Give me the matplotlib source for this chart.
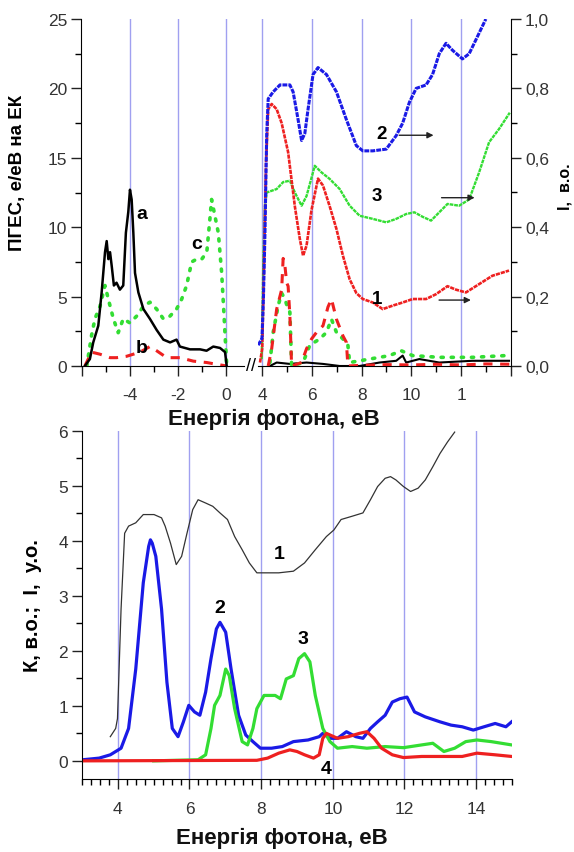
import matplotlib
matplotlib.use('Agg')
import matplotlib.pyplot as plt
from matplotlib.ticker import MultipleLocator, FixedLocator, FuncFormatter

plt.rcParams['font.family'] = ['Liberation Sans', 'DejaVu Sans']

# ---- верхня панель, ліва частина (ПГЕС, ліва шкала) ----
a_x = [-5.88, -5.67, -5.53, -5.32, -5.18, -5.04, -4.97, -4.90, -4.83, -4.76,
       -4.67, -4.56, -4.42, -4.28, -4.17, -4.07, -4.00, -3.93, -3.86, -3.79,
       -3.65, -3.44, -3.17, -2.89, -2.61, -2.33, -2.06, -1.92, -1.50, -1.08,
       -0.81, -0.53, -0.25, -0.04, 0.03]
a_y = [0, 0.5, 1.7, 2.9, 5.3, 8.2, 9.0, 7.7, 8.2, 7.2,
       5.8, 6.0, 5.5, 5.8, 9.6, 11.1, 12.7, 12.0, 9.6, 6.7,
       5.3, 4.1, 3.4, 2.6, 1.9, 1.7, 1.9, 1.4, 1.2, 1.2,
       1.1, 1.4, 1.3, 1.0, 0]
b_x = [-5.88, -5.6, -5.25, -4.83, -4.56, -4.14, -3.58, -3.17, -2.89, -2.47,
       -1.92, -1.36, -0.8, -0.39, 0.03]
b_y = [0, 1.0, 0.85, 0.6, 0.6, 0.7, 1.0, 1.4, 1.1, 0.6,
       0.6, 0.35, 0.25, 0.12, 0]
c_x = [-5.8, -5.6, -5.46, -5.25, -5.04, -4.9, -4.69, -4.49, -4.28, -4.0,
       -3.72, -3.44, -3.17, -2.89, -2.61, -2.33, -2.06, -1.85, -1.64, -1.43,
       -1.22, -1.01, -0.8, -0.67, -0.6, -0.46, -0.32, -0.18, -0.08, 0.03]
c_y = [0, 2.2, 3.4, 4.3, 5.8, 4.8, 3.4, 2.4, 3.4, 3.1,
       3.6, 4.3, 4.6, 4.1, 3.4, 3.6, 4.1, 4.8, 5.8, 7.5,
       7.7, 7.7, 8.2, 10.6, 12.0, 10.8, 9.6, 6.7, 3.6, 0]

# ---- верхня панель, права частина (I, в.о.) ----
s2_x = [3.85, 4.0, 4.06, 4.12, 4.19, 4.25, 4.45, 4.72, 5.12, 5.25,
        5.45, 5.59, 5.72, 5.85, 6.05, 6.25, 6.59, 6.99, 7.39, 7.79,
        8.05, 8.45, 8.99, 9.39, 9.65, 9.92, 10.19, 10.59, 10.85, 11.12,
        11.39, 11.65, 12.05, 12.32, 12.59, 12.99]
s2_y = [0.06, 0.08, 0.2, 0.385, 0.67, 0.77, 0.79, 0.81, 0.81, 0.79,
        0.71, 0.65, 0.67, 0.74, 0.84, 0.86, 0.84, 0.79, 0.71, 0.635,
        0.62, 0.62, 0.625, 0.664, 0.70, 0.76, 0.80, 0.81, 0.84, 0.90,
        0.93, 0.91, 0.885, 0.90, 0.94, 1.0]
s1_x = [3.92, 4.01, 4.08, 4.16, 4.25, 4.39, 4.59, 4.79, 5.05, 5.32,
        5.52, 5.65, 5.79, 5.99, 6.25, 6.45, 6.72, 6.99, 7.25, 7.52,
        7.79, 8.05, 8.45, 8.85, 9.25, 9.65, 10.05, 10.59, 10.99, 11.45,
        11.79, 12.19, 12.72, 13.25, 13.92]
s1_y = [0.01, 0.05, 0.29, 0.58, 0.74, 0.755, 0.74, 0.70, 0.616, 0.46,
        0.366, 0.318, 0.347, 0.45, 0.54, 0.52, 0.46, 0.395, 0.318, 0.25,
        0.21, 0.193, 0.183, 0.164, 0.174, 0.183, 0.193, 0.193, 0.207, 0.23,
        0.22, 0.212, 0.236, 0.26, 0.275]
s3_x = [3.99, 4.05, 4.12, 4.19, 4.59, 4.85, 5.12, 5.32, 5.59, 5.79,
        6.12, 6.39, 6.72, 7.12, 7.52, 7.92, 8.45, 8.99, 9.39, 9.79,
        10.12, 10.45, 10.79, 11.12, 11.45, 11.92, 12.32, 12.72, 13.12, 13.52,
        13.95]
s3_y = [0.02, 0.29, 0.46, 0.50, 0.51, 0.53, 0.534, 0.50, 0.462, 0.49,
        0.577, 0.558, 0.539, 0.51, 0.462, 0.433, 0.424, 0.414, 0.424, 0.438,
        0.443, 0.43, 0.419, 0.443, 0.467, 0.462, 0.48, 0.558, 0.645, 0.683,
        0.73]
rb_x = [4.25, 4.39, 4.59, 4.79, 4.85, 4.92, 4.99, 5.05, 5.12, 5.19,
        5.59, 5.79, 5.99, 6.19, 6.45, 6.65, 6.79, 6.99, 7.25, 7.39,
        7.45, 8.0, 9.0, 10.0, 11.0, 12.0, 13.0, 14.0]
rb_y = [0, 0.05, 0.164, 0.22, 0.31, 0.29, 0.24, 0.23, 0.145, 0,
        0.01, 0.05, 0.078, 0.097, 0.116, 0.17, 0.193, 0.135, 0.087, 0.068,
        0, 0.002, 0.004, 0.003, 0.005, 0.003, 0.006, 0.005]
cg_x = [4.32, 4.45, 4.65, 4.79, 4.92, 5.05, 5.12, 5.19, 5.65, 5.92,
        6.32, 6.59, 6.79, 6.99, 7.25, 7.45, 7.52, 8.32, 9.12, 9.59,
        10.05, 11.12, 12.45, 13.79]
cg_y = [0.01, 0.097, 0.174, 0.21, 0.193, 0.164, 0.155, 0, 0.01, 0.06,
        0.078, 0.097, 0.135, 0.097, 0.078, 0.06, 0.01, 0.02, 0.03, 0.044,
        0.03, 0.025, 0.025, 0.03]
ak_x = [4.32, 4.59, 5.12, 5.79, 6.45, 7.12, 7.92, 8.72, 9.39, 9.65,
        9.79, 10.32, 11.12, 12.45, 13.92]
ak_y = [0, 0.01, 0.006, 0.01, 0.006, 0, 0, 0.01, 0.015, 0.03,
        0.01, 0.02, 0.01, 0.015, 0.015]

# ---- нижня панель ----
k1_x = [3.79, 3.94, 3.99, 4.09, 4.19, 4.30, 4.50, 4.71, 5.01, 5.22,
        5.32, 5.47, 5.63, 5.78, 5.93, 6.09, 6.24, 6.45, 6.65, 6.85,
        7.06, 7.26, 7.47, 7.67, 7.88, 8.08, 8.49, 8.90, 9.21, 9.51,
        9.82, 10.03, 10.23, 10.54, 10.84, 11.05, 11.25, 11.46, 11.61, 11.76,
        11.97, 12.17, 12.38, 12.58, 12.79, 12.99, 13.20, 13.40]
k1_y = [0.44, 0.59, 0.77, 2.76, 4.14, 4.27, 4.33, 4.48, 4.48, 4.42,
        4.27, 3.96, 3.57, 3.72, 4.14, 4.57, 4.75, 4.69, 4.63, 4.51,
        4.39, 4.08, 3.84, 3.60, 3.42, 3.42, 3.42, 3.45, 3.60, 3.84,
        4.08, 4.20, 4.39, 4.45, 4.51, 4.75, 4.99, 5.14, 5.17, 5.11,
        4.99, 4.90, 4.96, 5.11, 5.35, 5.59, 5.80, 5.98]
k2_x = [3.02, 3.48, 3.79, 4.09, 4.30, 4.50, 4.71, 4.86, 4.91, 4.96, 5.06,
        5.22, 5.37, 5.52, 5.68, 5.83, 5.98, 6.14, 6.29, 6.45, 6.60,
        6.75, 6.85, 7.01, 7.16, 7.37, 7.57, 7.77, 7.98, 8.29, 8.59,
        8.90, 9.31, 9.62, 9.72, 9.92, 10.13, 10.38, 10.64, 10.84, 11.05,
        11.25, 11.46, 11.66, 11.87, 12.07, 12.28, 12.58, 12.99, 13.30, 13.61,
        13.92, 14.22, 14.53, 14.83, 14.99]
k2_y = [0.02, 0.05, 0.11, 0.23, 0.59, 1.67, 3.24, 3.90, 4.02, 3.96, 3.72,
        2.76, 1.43, 0.59, 0.44, 0.71, 1.01, 0.89, 0.83, 1.25, 1.86,
        2.40, 2.52, 2.34, 1.67, 0.83, 0.47, 0.35, 0.23, 0.23, 0.26,
        0.35, 0.38, 0.44, 0.50, 0.41, 0.41, 0.53, 0.44, 0.41, 0.59,
        0.71, 0.83, 1.07, 1.13, 1.16, 0.89, 0.80, 0.71, 0.65, 0.62,
        0.56, 0.62, 0.68, 0.62, 0.71]
k3_x = [5.0, 6.24, 6.45, 6.60, 6.70, 6.85, 7.01, 7.11, 7.26, 7.47,
        7.62, 7.77, 7.88, 8.08, 8.39, 8.54, 8.70, 8.90, 9.05, 9.21,
        9.36, 9.51, 9.72, 9.92, 10.13, 10.54, 10.95, 11.46, 11.97, 12.48,
        12.79, 13.10, 13.40, 13.71, 14.02, 14.42, 14.99]
k3_y = [0, 0.02, 0.11, 0.59, 1.01, 1.19, 1.67, 1.55, 0.95, 0.35,
        0.29, 0.59, 0.95, 1.19, 1.19, 1.13, 1.49, 1.55, 1.86, 1.95,
        1.80, 1.19, 0.59, 0.35, 0.23, 0.26, 0.23, 0.26, 0.24, 0.29,
        0.32, 0.17, 0.23, 0.35, 0.38, 0.35, 0.29]
k4_x = [3.02, 7.88, 8.18, 8.49, 8.80, 9.00, 9.21, 9.46, 9.62, 9.72,
        9.82, 10.13, 10.43, 10.74, 10.95, 11.15, 11.36, 11.66, 11.97, 12.48,
        12.99, 13.61, 14.02, 14.53, 14.99]
k4_y = [0, 0.01, 0.05, 0.14, 0.20, 0.17, 0.11, 0.05, 0.11, 0.41,
        0.50, 0.41, 0.44, 0.50, 0.53, 0.41, 0.23, 0.11, 0.06, 0.08,
        0.08, 0.08, 0.14, 0.11, 0.08]

BLUE = '#1a1ae6'
RED = '#ee2020'
GREEN = '#33dd33'
GRID = '#a0a0f0'
TXT = '#333333'
W, H = 574, 853

fig = plt.figure(figsize=(5.74, 8.53), dpi=100)

axL = fig.add_axes([81 / W, 1 - 367 / H, (244 - 81) / W, 347 / H])
axR = fig.add_axes([258 / W, 1 - 367 / H, (511 - 258) / W, 347 / H])
axR2 = axR.twinx()
axB = fig.add_axes([82 / W, 1 - 780 / H, (512 - 82) / W, 348 / H])

tick_kw = dict(direction='out', labelsize=12.5, width=1, color='#222222', labelcolor=TXT)
DOTS = (0, (1.6, 0.35))

# ліва частина
axL.set_xlim(-6.04, 0.75)
axL.set_ylim(0, 25)
for v in [-4, -2, 0]:
    axL.axvline(v, color=GRID, lw=1, zorder=0)
axL.plot(c_x, c_y, color=GREEN, lw=2.6, ls=(0, (0.6, 2.2)), dash_capstyle='round')
axL.plot(b_x, b_y, color=RED, lw=2.2, ls=(0, (3, 2.5)))
axL.plot(a_x, a_y, color='black', lw=1.8)
axL.spines['top'].set_visible(False)
axL.spines['right'].set_visible(False)
axL.xaxis.set_major_locator(FixedLocator([-6, -4, -2, 0]))
axL.set_xticklabels(['', '-4', '-2', '0'])
axL.xaxis.set_minor_locator(FixedLocator([-5, -3, -1]))
axL.yaxis.set_major_locator(MultipleLocator(5))
axL.yaxis.set_minor_locator(MultipleLocator(2.5))
axL.tick_params(which='major', length=7, pad=3, **tick_kw)
axL.tick_params(which='minor', length=4, direction='out', width=1)
axL.tick_params(axis='x', which='major', pad=8)
axL.set_ylabel('ПГЕС, е/еВ на ЕК', fontsize=13.5, fontweight='bold')
axL.yaxis.set_label_coords(-0.34, 0.56)
axL.text(-3.51, 11.0, 'a', fontsize=14, fontweight='bold', ha='center', va='center')
axL.text(-3.51, 1.3, 'b', fontsize=14, fontweight='bold', ha='center', va='center')
axL.text(-1.22, 8.8, 'c', fontsize=14, fontweight='bold', ha='center', va='center')

# права частина
axR.set_xlim(3.84, 14.0)
axR.set_ylim(0, 25)
for v in [4, 6, 8, 10, 12]:
    axR.axvline(v, color=GRID, lw=1, zorder=0)
for s in ['top', 'left', 'right']:
    axR.spines[s].set_visible(False)
axR.set_yticks([])
axR.xaxis.set_major_locator(FixedLocator([4, 6, 8, 10, 12, 14]))
axR.set_xticklabels(['4', '6', '8', '10', '1', ''])
axR.xaxis.set_minor_locator(FixedLocator([5, 7, 9, 11, 13]))
axR.tick_params(which='major', length=7, pad=8, **tick_kw)
axR.tick_params(which='minor', length=4, direction='out', width=1)

axR2.set_ylim(0, 1.0)
for s in ['top', 'left', 'bottom']:
    axR2.spines[s].set_visible(False)
axR2.plot(ak_x, ak_y, color='black', lw=1.5)
axR2.plot(cg_x, cg_y, color=GREEN, lw=2.6, ls=(0, (0.6, 2.2)), dash_capstyle='round')
axR2.plot(rb_x, rb_y, color=RED, lw=2.2, ls=(0, (3, 2.5)))
axR2.plot(s3_x, s3_y, color=GREEN, lw=1.7, ls=DOTS)
axR2.plot(s1_x, s1_y, color=RED, lw=1.9, ls=DOTS)
axR2.plot(s2_x, s2_y, color=BLUE, lw=2.2, ls=DOTS)
axR2.yaxis.set_major_locator(MultipleLocator(0.2))
axR2.yaxis.set_minor_locator(MultipleLocator(0.1))
axR2.yaxis.set_major_formatter(FuncFormatter(lambda v, p: f'{v:.1f}'.replace('.', ',')))
axR2.tick_params(which='major', length=7, pad=3, **tick_kw)
axR2.tick_params(which='minor', length=4, direction='out', width=1)
for lab, lx, ly, ax0, ax1 in [('2', 8.8, 0.67, 9.4, 11.0),
                              ('3', 8.6, 0.49, 11.1, 12.65),
                              ('1', 8.64, 0.195, 11.0, 12.5)]:
    axR2.text(lx, ly, lab, fontsize=13.5, fontweight='bold', ha='center', va='center')
    axR2.annotate('', xy=(ax1, ly - 0.005), xytext=(ax0, ly - 0.005),
                  arrowprops=dict(arrowstyle='-|>', color='#222222', lw=1, mutation_scale=9))
fig.text(0.985, 1 - 187 / H, 'I,  в.о.', rotation=90, fontsize=11.5, fontweight='bold',
         ha='center', va='center')
fig.text(251 / W, 1 - 367 / H, '//', fontsize=13, ha='center', va='center')
fig.text(274 / W, 1 - 419 / H, 'Енергія фотона, eВ', fontsize=16, fontweight='bold',
         ha='center', va='center', color='#111111')

# нижня панель
axB.set_xlim(3, 15)
axB.set_ylim(-0.33, 6)
for v in [4, 6, 8, 10, 12, 14]:
    axB.axvline(v, color=GRID, lw=1, zorder=0)
axB.plot(k1_x, k1_y, color='#333333', lw=0.9)
axB.plot(k2_x, k2_y, color=BLUE, lw=2.3)
axB.plot(k3_x, k3_y, color=GREEN, lw=2.3)
axB.plot(k4_x, k4_y, color=RED, lw=2.3)
axB.spines['top'].set_visible(False)
axB.spines['right'].set_visible(False)
axB.xaxis.set_major_locator(MultipleLocator(2))
axB.xaxis.set_minor_locator(MultipleLocator(0.25))
axB.yaxis.set_major_locator(FixedLocator([0, 1, 2, 3, 4, 5, 6]))
axB.yaxis.set_minor_locator(FixedLocator([0.5, 1.5, 2.5, 3.5, 4.5, 5.5]))
axB.tick_params(which='major', length=7, pad=3, **tick_kw)
axB.tick_params(which='minor', length=4, direction='out', width=1)
axB.tick_params(axis='x', which='major', pad=9)
fig.text(282 / W, 1 - 838 / H, 'Енергія фотона, eВ', fontsize=16, fontweight='bold',
         ha='center', va='center', color='#111111')
axB.set_ylabel('К, в.о.;  І,  у.о.', fontsize=14.5, fontweight='bold', labelpad=12)
for lab, lx, ly in [('1', 8.49, 3.78), ('2', 6.85, 2.79), ('3', 9.16, 2.23), ('4', 9.82, -0.13)]:
    axB.text(lx, ly, lab, fontsize=14, fontweight='bold', ha='center', va='center')

fig.savefig('out.png', dpi=100)
